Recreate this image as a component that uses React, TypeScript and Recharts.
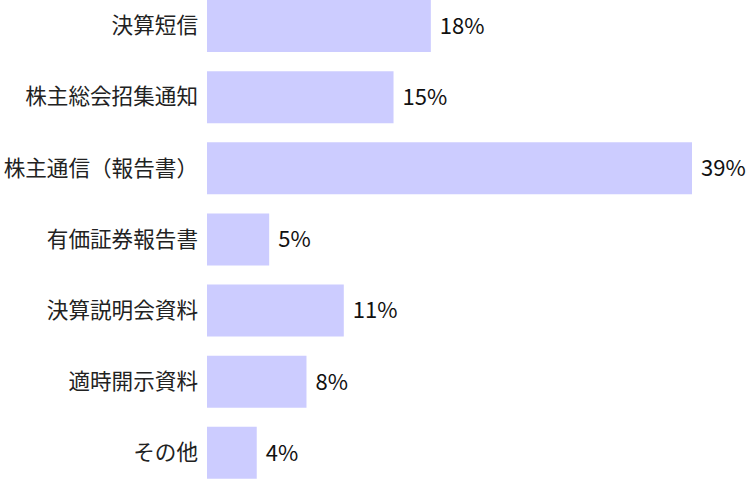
import React from 'react';
import { BarChart, Bar, XAxis, YAxis, LabelList } from 'recharts';

const categories = [
  '決算短信',
  '株主総会招集通知',
  '株主通信（報告書）',
  '有価証券報告書',
  '決算説明会資料',
  '適時開示資料',
  'その他',
];

const shares = [18, 15, 39, 5, 11, 8, 4];

const data = categories.map((name, i) => ({ name, value: shares[i] }));

const FONT = '"Noto Sans CJK JP", "Noto Sans", sans-serif';

export default function App() {
  return (
    <div style={{ position: 'absolute', left: 0, top: -10, fontFamily: FONT }}>
      <BarChart
        width={746}
        height={498}
        data={data}
        layout="vertical"
        margin={{ top: 0, right: 54, bottom: 0, left: 0 }}
      >
        <XAxis type="number" domain={[0, 39]} hide />
        <YAxis
          type="category"
          dataKey="name"
          width={207}
          axisLine={false}
          tickLine={false}
          tickSize={0}
          tickMargin={9}
          tick={{ fontSize: 21.6, fill: '#222', fontFamily: FONT }}
        />
        <Bar dataKey="value" fill="#ccccff" barSize={52} isAnimationActive={false}>
          <LabelList
            dataKey="value"
            position="right"
            offset={9}
            formatter={(v: number) => `${v}%`}
            style={{ fontSize: 22, fill: '#111', fontFamily: FONT }}
          />
        </Bar>
      </BarChart>
    </div>
  );
}
